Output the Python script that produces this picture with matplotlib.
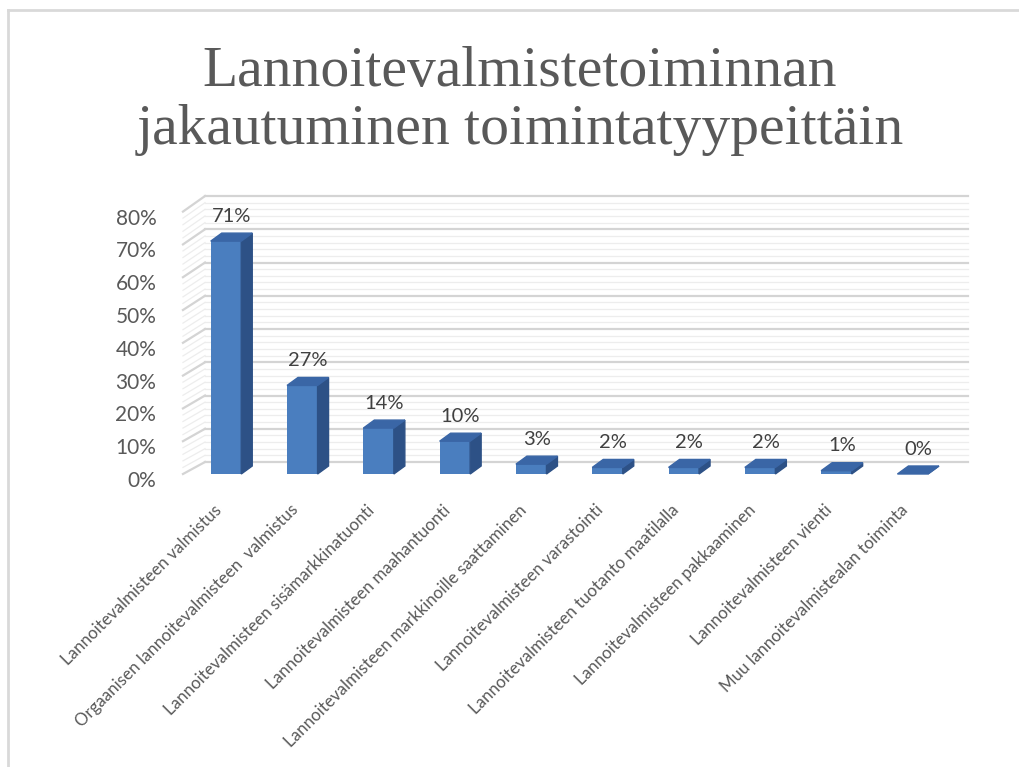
import numpy as np
import matplotlib.pyplot as plt
from matplotlib.patches import Polygon
from matplotlib.lines import Line2D
from matplotlib.transforms import ScaledTranslation

categories = [
    "Lannoitevalmisteen valmistus",
    "Orgaanisen lannoitevalmisteen  valmistus",
    "Lannoitevalmisteen sisämarkkinatuonti",
    "Lannoitevalmisteen maahantuonti",
    "Lannoitevalmisteen markkinoille saattaminen",
    "Lannoitevalmisteen varastointi",
    "Lannoitevalmisteen tuotanto maatilalla",
    "Lannoitevalmisteen pakkaaminen",
    "Lannoitevalmisteen vienti",
    "Muu lannoitevalmistealan toiminta",
]
values = [71, 27, 14, 10, 3, 2, 2, 2, 1, 0]
yticks = [0, 10, 20, 30, 40, 50, 60, 70, 80]
title = "Lannoitevalmistetoiminnan\njakautuminen toimintatyypeittäin"

W, H = 1019, 767
fig = plt.figure(figsize=(W / 100, H / 100), dpi=100)

# axes placed so that the front plane of the pseudo 3D chart lines up
xmin, xmax = -0.75, 9.9
ymin, ymax = -3, 88
px_per_x = 76.3
px_per_y = 3.28
left_px = 226 + xmin * px_per_x
bottom_px = 474 - ymin * px_per_y
ax = fig.add_axes([left_px / W, (H - bottom_px) / H,
                   (xmax - xmin) * px_per_x / W, (ymax - ymin) * px_per_y / H])
ax.set_xlim(xmin, xmax)
ax.set_ylim(ymin, ymax)
for s in ax.spines.values():
    s.set_visible(False)

# depth of the back wall and of the bars
wall_x0, wall_x1 = -0.275, 9.72
side_x0 = -0.564
def back_y(v):
    return 3.66 + v * 1.0136

bar_w = 0.4
ddx, ddy = 0.144, 2.44

# back wall grid: faint minor lines and stronger major lines
for v in np.arange(0, 81, 2):
    major = v % 10 == 0
    col = "#d4d4d4" if major else "#ededed"
    lw = 1.6 if major else 0.9
    ax.add_line(Line2D([wall_x0, wall_x1], [back_y(v), back_y(v)], color=col, lw=lw, zorder=1))
    ax.add_line(Line2D([side_x0, wall_x0], [v, back_y(v)], color=col, lw=lw, zorder=1))

x = np.arange(len(categories))
front = "#4a7ebf"
side = "#2d5186"
top = "#3a66a6"
ax.bar(x, values, width=bar_w, color=front, zorder=3)
for xi, v in zip(x, values):
    l, r = xi - bar_w / 2, xi + bar_w / 2
    ax.add_patch(Polygon([(r, 0), (r + ddx, ddy), (r + ddx, v + ddy), (r, v)],
                         closed=True, color=side, zorder=3))
    ax.add_patch(Polygon([(l, v), (r, v), (r + ddx, v + ddy), (l + ddx, v + ddy)],
                         closed=True, color=top, zorder=4))
    ax.annotate(f"{v}%", (xi + ddx / 2, v + ddy), xytext=(0, 6), textcoords="offset points",
                ha="center", va="bottom", fontsize=14.5, color="#404040", family="Lato")

ax.set_yticks(yticks)
ax.set_yticklabels([f"{t}%" for t in yticks], fontsize=15, color="#595959", family="Lato")
ax.tick_params(axis="y", length=0, pad=9)
for lab in ax.get_yticklabels():
    lab.set_transform(lab.get_transform() + ScaledTranslation(0, -0.05, fig.dpi_scale_trans))

ax.set_xticks(x)
ax.set_xticklabels(categories, rotation=45, ha="right", va="center", rotation_mode="anchor",
                   fontsize=12.2, color="#595959", family="Lato")
ax.tick_params(axis="x", length=0, pad=17)
for lab in ax.get_xticklabels():
    lab.set_transform(lab.get_transform() + ScaledTranslation(-0.07, 0, fig.dpi_scale_trans))

fig.text(520 / W, 1 - 101 / H, title, ha="center", va="center", fontsize=41.5,
         family="Liberation Serif", color="#595959", linespacing=1.15)

# slide frame
fig.add_artist(Line2D([7.5 / W, 7.5 / W], [0, 1 - 10 / H], transform=fig.transFigure,
                      color="#d9d9d9", lw=2))
fig.add_artist(Line2D([7.5 / W, 1], [1 - 10 / H, 1 - 10 / H], transform=fig.transFigure,
                      color="#d9d9d9", lw=2))

fig.savefig("out.png", dpi=100)
